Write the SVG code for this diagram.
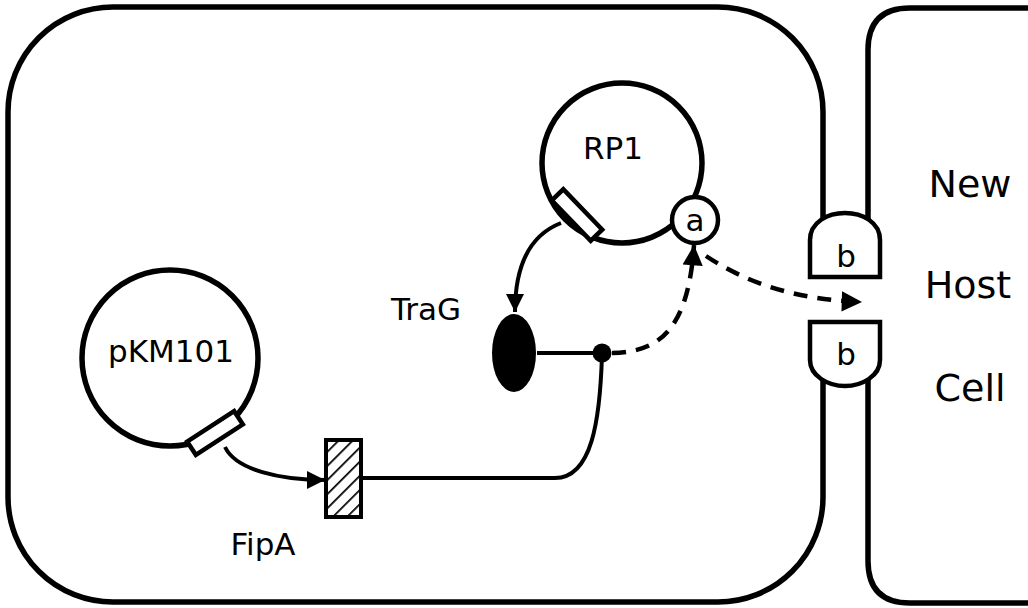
<svg xmlns="http://www.w3.org/2000/svg" width="1028" height="608" viewBox="0 0 1028 608">
<style>
.ln{fill:none;stroke:#000;stroke-width:4}
.dash{fill:none;stroke:#000;stroke-width:4.5;stroke-dasharray:14 10}
.shape{fill:#fff;stroke:#000;stroke-width:4.5}
.wall{fill:none;stroke:#000;stroke-width:5.5}
.t{font-family:"DejaVu Sans",Verdana,sans-serif;font-size:31px;fill:#000;text-anchor:middle}
.big{font-size:38px}
</style>
<defs>
<marker id="ah" viewBox="0 0 10 10" refX="10" refY="5" markerWidth="5" markerHeight="4.5" markerUnits="strokeWidth" orient="auto">
<path d="M0,0 L10,5 L0,10 Z" fill="#000"/>
</marker>
<pattern id="hatch" width="10" height="10" patternUnits="userSpaceOnUse" patternTransform="rotate(45)">
<line x1="0" y1="0" x2="0" y2="10" stroke="#000" stroke-width="3.5"/>
</pattern>
</defs>
<rect width="1028" height="608" fill="#fff"/>
<g id="donor-cell">
<rect class="wall" x="8" y="7" width="815" height="595" rx="105" ry="105"/>
</g>
<g id="host-cell">
<path class="wall" d="M1030,8 L910,8 Q868,8 868,50 L868,561 Q868,603 910,603 L1030,603"/>
<text class="t big" x="970" y="197">New</text>
<text class="t big" x="968" y="298">Host</text>
<text class="t big" x="970" y="401">Cell</text>
</g>
<rect x="814" y="279" width="62" height="41" fill="#fff"/>
<g id="channel-top">
<path class="shape" d="M810,277 V240 C810,222 828,213 845,213 C862,213 880,222 880,240 V277 Z"/>
<text class="t" x="846" y="267">b</text>
</g>
<g id="channel-bottom">
<path class="shape" d="M810,322 V360 C810,376 828,386 845,386 C862,386 880,376 880,360 V322 Z"/>
<text class="t" x="846" y="365">b</text>
</g>
<g id="connectors">
<path class="ln" d="M561,223 C530,235 515,265 515,312" marker-end="url(#ah)"/>
<path class="ln" d="M225,447 C236,470 280,480 325,480" marker-end="url(#ah)"/>
<line class="ln" x1="537" y1="353" x2="602" y2="353"/>
<path class="ln" d="M602,355 C600,420 592,478 555,478 L361,478"/>
<path class="dash" d="M612,353 C655,352 688,335 694,245" marker-end="url(#ah)"/>
<path class="dash" d="M706,256 C745,282 795,300 862,302" marker-end="url(#ah)"/>
</g>
<g id="RP1">
<circle class="wall" cx="622" cy="163" r="80"/>
<rect class="shape" x="-28" y="-8" width="56" height="16" transform="translate(577,215) rotate(46)"/>
<text class="t" x="613" y="159">RP1</text>
</g>
<g id="a">
<circle class="shape" cx="695" cy="220" r="23"/>
<text class="t" x="695" y="231">a</text>
</g>
<g id="pKM101">
<circle class="wall" cx="170" cy="358" r="88"/>
<rect class="shape" x="-28" y="-8" width="56" height="16" transform="translate(215,433) rotate(-33)"/>
<text class="t" x="171" y="362">pKM101</text>
</g>
<g id="TraG">
<ellipse cx="514" cy="353" rx="22" ry="39" fill="#000"/>
<text class="t" x="426" y="320">TraG</text>
</g>
<g id="junction">
<circle cx="602" cy="353" r="9.5" fill="#000"/>
</g>
<g id="FipA">
<rect x="326" y="440" width="35" height="77" fill="url(#hatch)" stroke="#000" stroke-width="4"/>
<text class="t" x="263" y="555">FipA</text>
</g>
</svg>
